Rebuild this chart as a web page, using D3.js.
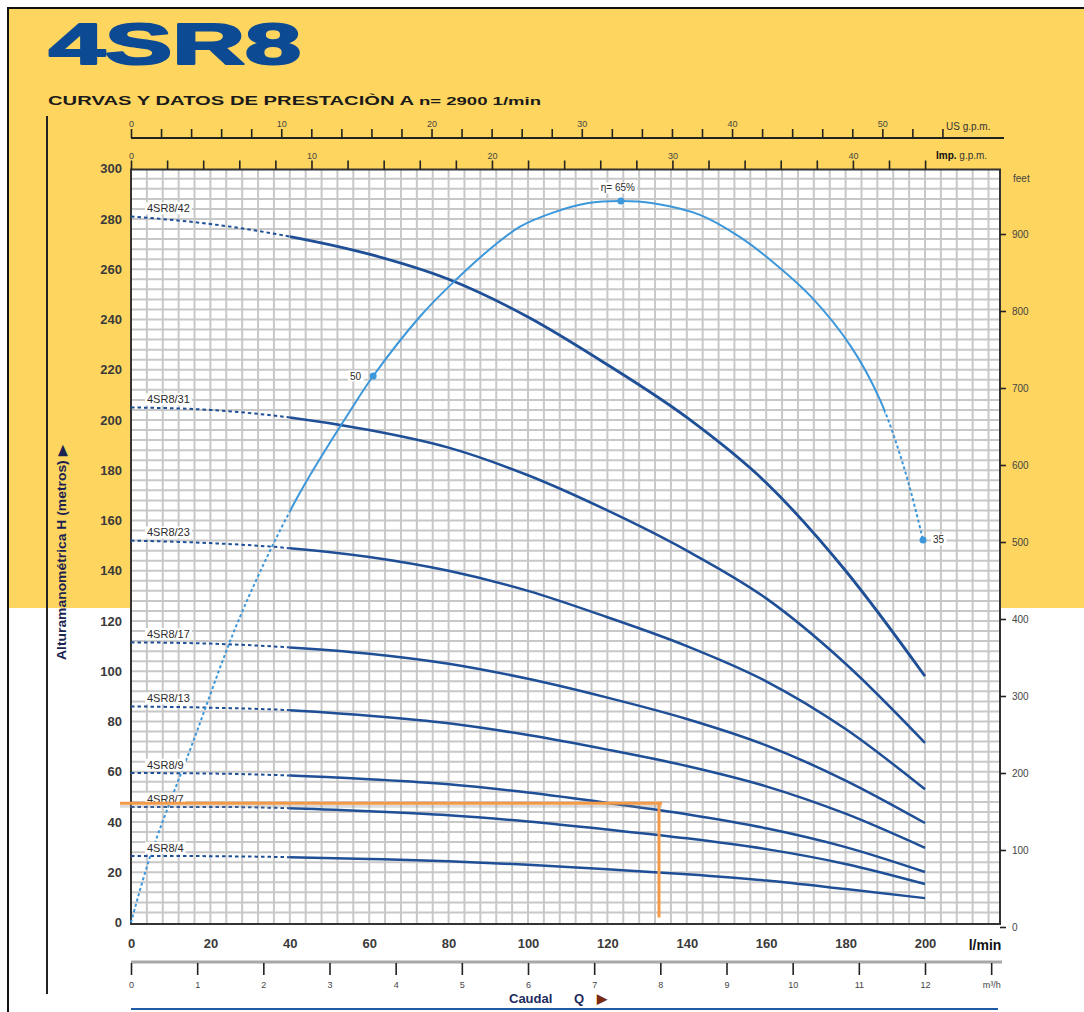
<!DOCTYPE html>
<html>
<head>
<meta charset="utf-8">
<script src="https://cdn.jsdelivr.net/npm/d3@7"></script>
<style>
  body { margin: 0; background: #fff; }
  svg { display: block; }
  text { font-family: "Liberation Sans", Arial, sans-serif; }
</style>
</head>
<body>
<div id="chart"></div>
<script>
'use strict';

// flow points (l/min) where the head curves were read
var flowLmin = [0, 20, 40, 60, 80, 100, 120, 140, 160, 180, 200];

// head in metres, one array per model
var head42 = [281, 278, 273, 266, 256, 241, 222, 201, 175, 140, 98];
var head31 = [205, 204, 201, 196, 189, 178, 164, 148, 129, 103, 71.5];
var head23 = [152, 151, 149, 145.5, 140, 132, 121.5, 110, 96, 77, 53];
var head17 = [111.5, 111, 109.5, 107, 103, 97, 89.5, 81, 70.5, 56.5, 39.6];
var head13 = [86, 85.5, 84.5, 82.3, 79.3, 74.6, 68.8, 62.3, 54.2, 43.3, 29.7];
var head9  = [59.5, 59.3, 58.5, 57, 55, 51.7, 47.6, 43.1, 37.5, 30, 20.1];
var head7  = [46, 46, 45.5, 44.3, 42.7, 40.2, 37, 33.5, 29.2, 23.3, 15.3];
var head4  = [26.5, 26.4, 26, 25.3, 24.4, 23, 21.2, 19.2, 16.7, 13.3, 9.7];

var models = ['4SR8/42', '4SR8/31', '4SR8/23', '4SR8/17', '4SR8/13', '4SR8/9', '4SR8/7', '4SR8/4'];
var heads = [head42, head31, head23, head17, head13, head9, head7, head4];

// efficiency curve (%)
var effFlow  = [0, 4.8, 15.6, 27.5, 41.6, 55.7, 61, 72.8, 81.1, 91.2, 98, 106.3, 114.9, 123.4, 131.5, 143.3, 153.4, 161.2, 171.3, 181.4, 188.7, 194.9, 199.5];
var effValue = [0, 6, 16.5, 28, 38.7, 47.1, 50, 55.1, 58, 61.1, 62.8, 64, 64.8, 65, 64.8, 63.8, 61.9, 59.9, 56.8, 52.5, 47.8, 41.4, 35];
var effMarkFlow  = [61, 123.4, 199.5];
var effMarkValue = [50, 65, 35];
var effMarkLabel = ['50', 'η= 65%', '35'];

// duty point marked in orange
var dutyFlow = 133;
var dutyHead = 47.5;

var headTicks = d3.range(0, 301, 20);
var flowTicks = d3.range(0, 201, 20);
var feetTicks = d3.range(0, 901, 100);
var m3hTicks = d3.range(0, 14, 1);
var usTicks = d3.range(0, 55, 2);
var impTicks = d3.range(0, 45, 2);

function render() {
  var W = 1084, H = 1012;
  var pLeft = 131, pRight = 1000, pTop = 169.5, pBottom = 924;

  var x = d3.scaleLinear().domain([0, 200]).range([pLeft, 925]);
  var y = d3.scaleLinear().domain([0, 300]).range([922.5, 168.75]);
  var yFeet = d3.scaleLinear().domain([0, 900]).range([927, 234]);
  var yEff = d3.scaleLinear().domain([0, 50, 65]).range([y(0), y(217.5), y(287.2)]);
  var xUS = d3.scaleLinear().domain([0, 200 / 3.785]).range(x.range());
  var xImp = d3.scaleLinear().domain([0, 200 / 4.546]).range(x.range());
  var xM3 = d3.scaleLinear().domain([0, 12]).range(x.range());

  var svg = d3.select('#chart').append('svg').attr('width', W).attr('height', H);
  var defs = svg.append('defs');

  // page background
  svg.append('rect').attr('x', 8).attr('y', 8).attr('width', W - 8).attr('height', 600).attr('fill', '#fed65f');
  svg.append('path').attr('d', 'M8,' + H + 'V8H' + W).attr('fill', 'none').attr('stroke', '#111').attr('stroke-width', 2);

  svg.append('text')
    .attr('x', 49).attr('y', 64)
    .attr('font-family', '"DejaVu Sans"').attr('font-weight', 'bold').attr('font-size', 58)
    .attr('textLength', 252).attr('lengthAdjust', 'spacingAndGlyphs')
    .attr('fill', '#0c4a94').attr('stroke', '#0c4a94').attr('stroke-width', 2.2)
    .attr('stroke-linejoin', 'round')
    .text('4SR8');

  var sub = svg.append('text')
    .attr('x', 48).attr('y', 105)
    .attr('font-weight', 'bold').attr('font-size', 12)
    .attr('textLength', 493).attr('lengthAdjust', 'spacingAndGlyphs')
    .attr('fill', '#1a1a1a');
  sub.append('tspan').text('CURVAS Y DATOS DE PRESTACIÒN A ');
  sub.append('tspan').attr('font-size', 11).text('n= 2900  1/min');

  // left rule
  svg.append('line').attr('x1', 47).attr('x2', 47).attr('y1', 116).attr('y2', 994)
    .attr('stroke', '#222').attr('stroke-width', 2);

  // plot background and grid
  svg.append('rect').attr('x', pLeft).attr('y', pTop).attr('width', pRight - pLeft).attr('height', pBottom - pTop).attr('fill', '#fff');

  var grid = svg.append('g').attr('stroke', '#c8c8c8').attr('stroke-width', 2);
  grid.selectAll('.gv').data(d3.range(4, 219, 4)).enter().append('line')
    .attr('x1', function (d) { return x(d); }).attr('x2', function (d) { return x(d); })
    .attr('y1', pTop).attr('y2', pBottom);
  grid.selectAll('.gh').data(d3.range(4, 300, 4)).enter().append('line')
    .attr('x1', pLeft).attr('x2', pRight)
    .attr('y1', function (d) { return y(d); }).attr('y2', function (d) { return y(d); });

  svg.append('rect').attr('x', pLeft).attr('y', pTop).attr('width', pRight - pLeft).attr('height', pBottom - pTop)
    .attr('fill', 'none').attr('stroke', '#333').attr('stroke-width', 2);

  function styleAxis(g, size, color, weight) {
    g.select('.domain').remove();
    g.selectAll('text').attr('font-size', size).attr('fill', color).attr('font-weight', weight || 'normal')
      .attr('font-family', '"Liberation Sans", Arial, sans-serif');
    g.selectAll('.tick line').attr('stroke', '#222').attr('stroke-width', 1.6);
  }

  // left head axis
  var gLeft = svg.append('g').attr('transform', 'translate(' + pLeft + ',0)')
    .call(d3.axisLeft(y).tickValues(headTicks).tickSize(0).tickPadding(9));
  styleAxis(gLeft, 13, '#3a3a3a', 'bold');

  // bottom l/min axis
  var gBottom = svg.append('g').attr('transform', 'translate(0,' + pBottom + ')')
    .call(d3.axisBottom(x).tickValues(flowTicks).tickSize(0).tickPadding(15));
  styleAxis(gBottom, 13, '#3a3a3a', 'bold');
  svg.append('text').attr('x', 985).attr('y', 950).attr('text-anchor', 'middle')
    .attr('font-weight', 'bold').attr('font-size', 14).attr('fill', '#111').text('l/min');

  // m3/h axis
  svg.append('line').attr('x1', pLeft).attr('x2', pRight + 2).attr('y1', 962).attr('y2', 962)
    .attr('stroke', '#a8a8a8').attr('stroke-width', 3);
  var gM3 = svg.append('g').attr('transform', 'translate(0,963)')
    .call(d3.axisBottom(xM3).tickValues(m3hTicks).tickSize(12).tickPadding(7)
      .tickFormat(function (d) { return d === 13 ? 'm³/h' : d; }));
  styleAxis(gM3, 9, '#444');

  var cap = svg.append('text').attr('y', 1003)
    .attr('font-weight', 'bold').attr('font-size', 13).attr('fill', '#1d2b5e');
  cap.append('tspan').attr('x', 509).text('Caudal');
  cap.append('tspan').attr('x', 574).text('Q');
  cap.append('tspan').attr('x', 597).attr('fill', '#7a2a10').text('▶');

  svg.append('line').attr('x1', pLeft).attr('x2', 998).attr('y1', 1009).attr('y2', 1009)
    .attr('stroke', '#1f5aa6').attr('stroke-width', 2);

  // right feet axis
  var gRight = svg.append('g').attr('transform', 'translate(' + pRight + ',0)')
    .call(d3.axisRight(yFeet).tickValues(feetTicks).tickSize(6).tickPadding(6));
  styleAxis(gRight, 10, '#444');
  svg.append('text').attr('x', 1013).attr('y', 182).attr('font-size', 10).attr('fill', '#444').text('feet');

  // top axes
  var fmtTen = function (d) { return d % 10 === 0 ? d : ''; };
  svg.append('line').attr('x1', pLeft).attr('x2', 1004).attr('y1', 138).attr('y2', 138)
    .attr('stroke', '#222').attr('stroke-width', 2);
  var gUS = svg.append('g').attr('transform', 'translate(0,138)')
    .call(d3.axisTop(xUS).tickValues(usTicks).tickSize(9).tickPadding(2).tickFormat(fmtTen));
  styleAxis(gUS, 9, '#444');
  svg.append('text').attr('x', 946).attr('y', 130).attr('font-size', 10).attr('fill', '#333').text('US g.p.m.');

  var gImp = svg.append('g').attr('transform', 'translate(0,' + pTop + ')')
    .call(d3.axisTop(xImp).tickValues(impTicks).tickSize(9).tickPadding(2).tickFormat(fmtTen));
  styleAxis(gImp, 9, '#444');
  var imp = svg.append('text').attr('x', 936).attr('y', 159).attr('font-size', 10).attr('fill', '#333');
  imp.append('tspan').attr('font-weight', 'bold').attr('fill', '#111').text('Imp.');
  imp.append('tspan').text(' g.p.m.');

  // axis title
  svg.append('text')
    .attr('transform', 'translate(66,553) rotate(-90)')
    .attr('text-anchor', 'middle').attr('font-weight', 'bold').attr('font-size', 12)
    .attr('textLength', 214).attr('lengthAdjust', 'spacingAndGlyphs')
    .attr('fill', '#1c2350')
    .text('Alturamanométrica H (metros) ▶');

  // clip regions: dotted start of curves, solid working range
  function addClip(id, ranges) {
    var cp = defs.append('clipPath').attr('id', id);
    ranges.forEach(function (r) {
      cp.append('rect').attr('x', x(r[0])).attr('y', pTop - 20)
        .attr('width', x(r[1]) - x(r[0])).attr('height', pBottom - pTop + 40);
    });
  }
  addClip('pumpDash', [[-3, 40]]);
  addClip('pumpSolid', [[40, 220]]);
  addClip('effDash', [[-3, 40], [190, 220]]);
  addClip('effSolid', [[40, 190]]);

  var headLine = d3.line()
    .x(function (d, i) { return x(flowLmin[i]); })
    .y(function (d) { return y(d); })
    .curve(d3.curveMonotoneX);

  var pumpG = svg.append('g').attr('fill', 'none').attr('stroke', '#1f4f97');
  heads.forEach(function (h, k) {
    pumpG.append('path').attr('d', headLine(h)).attr('clip-path', 'url(#pumpDash)')
      .attr('stroke-width', 2).attr('stroke-dasharray', '3.5,3');
    pumpG.append('path').attr('d', headLine(h)).attr('clip-path', 'url(#pumpSolid)')
      .attr('stroke-width', k === 0 ? 2.8 : 2.5);
  });

  // efficiency curve
  var effLine = d3.line()
    .x(function (d, i) { return x(effFlow[i]); })
    .y(function (d) { return yEff(d); })
    .curve(d3.curveCatmullRom.alpha(0.5));
  var effG = svg.append('g').attr('fill', 'none').attr('stroke', '#3c97db');
  effG.append('path').attr('d', effLine(effValue)).attr('clip-path', 'url(#effDash)')
    .attr('stroke-width', 2).attr('stroke-dasharray', '3,2.5');
  effG.append('path').attr('d', effLine(effValue)).attr('clip-path', 'url(#effSolid)')
    .attr('stroke-width', 2);

  // labels with white boxes
  function boxedLabel(px, py, txt, anchor, size) {
    var g = svg.append('g');
    var t = g.append('text').attr('x', px).attr('y', py).attr('dy', '0.35em')
      .attr('text-anchor', anchor).attr('font-size', size).attr('fill', '#2b2b2b').text(txt);
    var b = t.node().getBBox();
    g.insert('rect', 'text').attr('x', b.x - 2).attr('y', b.y).attr('width', b.width + 4).attr('height', b.height)
      .attr('fill', '#fff');
  }

  heads.forEach(function (h, k) {
    boxedLabel(147, y(h[0]) - 8, models[k], 'start', 11);
  });

  effMarkFlow.forEach(function (q, i) {
    svg.append('circle').attr('cx', x(q)).attr('cy', yEff(effMarkValue[i])).attr('r', 3.5).attr('fill', '#3c97db');
  });
  boxedLabel(x(effMarkFlow[0]) - 12, yEff(effMarkValue[0]), effMarkLabel[0], 'end', 10);
  boxedLabel(x(effMarkFlow[1]) - 3, yEff(effMarkValue[1]) - 13, effMarkLabel[1], 'middle', 10);
  boxedLabel(x(effMarkFlow[2]) + 10, yEff(effMarkValue[2]), effMarkLabel[2], 'start', 10);

  // orange duty lines, drawn on top of the labels
  svg.append('line')
    .attr('x1', x(0) - 11).attr('x2', x(dutyFlow) + 3)
    .attr('y1', y(dutyHead) + 3).attr('y2', y(dutyHead) + 3)
    .attr('stroke', '#888').attr('stroke-opacity', 0.3).attr('stroke-width', 3);
  var orange = svg.append('g').attr('stroke', '#f39a48').attr('stroke-width', 3);
  orange.append('line')
    .attr('x1', x(0) - 11).attr('x2', x(dutyFlow) + 3)
    .attr('y1', y(dutyHead)).attr('y2', y(dutyHead));
  orange.append('line')
    .attr('x1', x(dutyFlow)).attr('x2', x(dutyFlow))
    .attr('y1', y(dutyHead)).attr('y2', y(2));
}

render();
</script>
</body>
</html>
